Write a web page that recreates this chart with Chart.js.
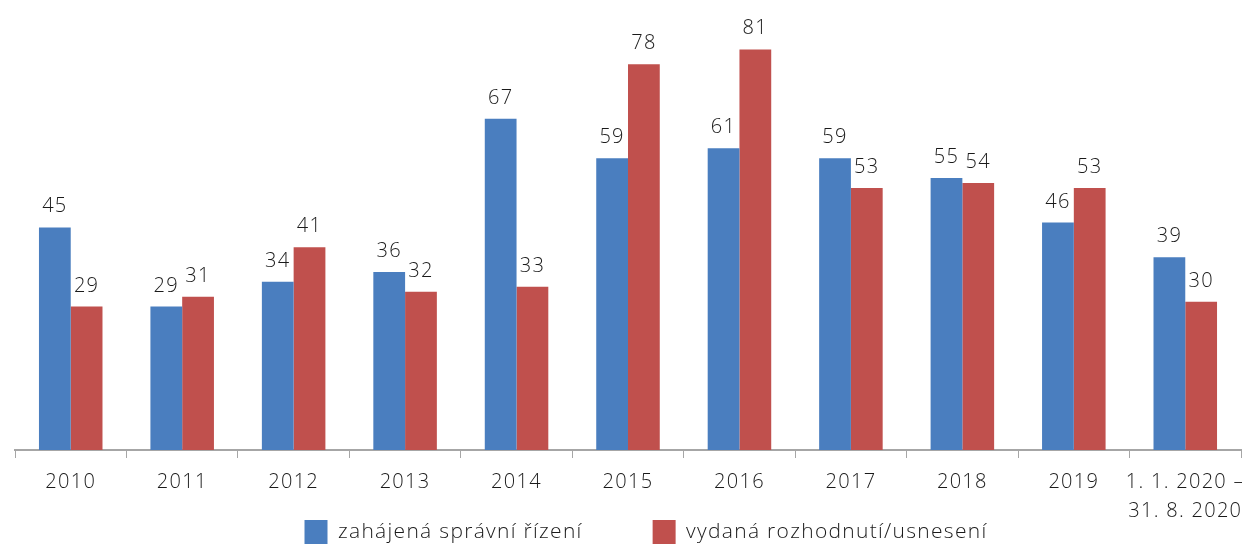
<!DOCTYPE html>
<html>
<head>
<meta charset="utf-8">
<script src="https://cdn.jsdelivr.net/npm/chart.js@4"></script>
<style>
  html, body { margin: 0; padding: 0; background: #fff; }
  #wrap { width: 1242px; height: 544px; }
</style>
</head>
<body>
<div id="wrap"><canvas id="graf"></canvas></div>
<script>
const roky = ['2010', '2011', '2012', '2013', '2014', '2015', '2016', '2017', '2018', '2019', ['1. 1. 2020 –', '31. 8. 2020']];
const zahajena = [45, 29, 34, 36, 67, 59, 61, 59, 55, 46, 39];
const vydana = [29, 31, 41, 32, 33, 78, 81, 53, 54, 53, 30];

const pismo = '"Open Sans", sans-serif';

// trochu prostrkane pismo jako v predloze
const prostrkat = {
    id: 'prostrkat',
    beforeUpdate(chart) { chart.ctx.letterSpacing = '1.3px'; },
    beforeDraw(chart) { chart.ctx.letterSpacing = '1.3px'; }
};

// legenda ma velky padding kvuli mezere mezi polozkami, tak ji posuneme nahoru
const legendaNahoru = {
    id: 'legendaNahoru',
    afterLayout(chart) {
        chart.legend.top -= 70;
        chart.legend.left += 18;
        chart.legend.right += 18;
    }
};

// hodnoty nad sloupci
const popisky = {
    id: 'popisky',
    afterDatasetsDraw(chart) {
        const ctx = chart.ctx;
        ctx.save();
        ctx.font = '300 20px ' + pismo;
        ctx.fillStyle = '#1a1a1a';
        ctx.textAlign = 'center';
        ctx.textBaseline = 'alphabetic';
        chart.data.datasets.forEach((ds, i) => {
            chart.getDatasetMeta(i).data.forEach((bar, j) => {
                ctx.fillText(ds.data[j], bar.x, bar.y - 15);
            });
        });
        ctx.restore();
    }
};

new Chart(document.getElementById('graf'), {
    type: 'bar',
    data: {
        labels: roky,
        datasets: [{
            label: 'zahájená správní řízení',
            data: zahajena,
            backgroundColor: '#4A7EBF',
            barPercentage: 1,
            categoryPercentage: 0.57
        }, {
            label: 'vydaná rozhodnutí/usnesení',
            data: vydana,
            backgroundColor: '#C0504D',
            barPercentage: 1,
            categoryPercentage: 0.57
        }]
    },
    options: {
        responsive: true,
        maintainAspectRatio: false,
        animation: false,
        layout: { padding: { left: 15, right: 1, top: 0, bottom: 0 } },
        plugins: {
            tooltip: { enabled: false },
            legend: {
                position: 'bottom',
                maxHeight: 24,
                labels: {
                    boxWidth: 23,
                    boxHeight: 24,
                    padding: 70,
                    color: '#1a1a1a',
                    font: { family: pismo, size: 21, weight: 300 }
                }
            }
        },
        scales: {
            x: {
                offset: true,
                grid: {
                    offset: true,
                    drawOnChartArea: false,
                    tickLength: 8,
                    color: '#a6a6a6'
                },
                border: { color: '#a6a6a6', width: 2 },
                ticks: {
                    color: '#1a1a1a',
                    autoSkip: false,
                    maxRotation: 0,
                    padding: 10,
                    font: { family: pismo, size: 20, weight: 300, lineHeight: 1.45 }
                },
                afterFit(scale) {
                    scale.height = 70;
                    scale.paddingLeft = 0;
                    scale.paddingRight = 0;
                }
            },
            y: {
                display: false,
                min: 0,
                max: 91
            }
        }
    },
    plugins: [prostrkat, legendaNahoru, popisky]
});
</script>
</body>
</html>
